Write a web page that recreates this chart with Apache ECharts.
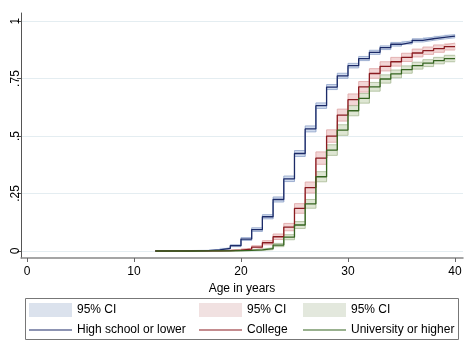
<!DOCTYPE html>
<html><head><meta charset="utf-8">
<script src="https://cdn.jsdelivr.net/npm/echarts@6/dist/echarts.min.js"></script>
<style>html,body{margin:0;padding:0;background:#fff}#c{width:476px;height:357px}</style>
</head><body><div id="c"></div>
<script>
const ages = [12,13,14,15,16,17,18,19,20,21,22,23,24,25,26,27,28,29,30,31,32,33,34,35,36,37,38,39,40];
const xTicks = [0,10,20,30,40];
const yTicks = [0,0.25,0.5,0.75,1];
const yTickLabels = ['0','.25','.5','.75','1'];
const xTitle = 'Age in years';
const ciLabel = '95% CI';
const groupNames = ['High school or lower','College','University or higher'];

const hsEst = [0,0.0005,0.001,0.0015,0.002,0.005,0.011,0.023,0.052,0.093,0.149,0.224,0.314,0.424,0.531,0.632,0.713,0.762,0.806,0.837,0.864,0.884,0.899,0.907,0.916,0.923,0.929,0.934,0.934];
const hsLo  = [0,0,0,0.0005,0.001,0.003,0.008,0.019,0.046,0.085,0.140,0.213,0.302,0.411,0.518,0.620,0.702,0.751,0.796,0.828,0.855,0.876,0.891,0.900,0.909,0.916,0.922,0.927,0.927];
const hsHi  = [0.001,0.0015,0.002,0.0025,0.003,0.007,0.014,0.027,0.058,0.101,0.158,0.235,0.326,0.437,0.544,0.644,0.724,0.773,0.816,0.846,0.873,0.892,0.907,0.914,0.923,0.930,0.936,0.941,0.941];

const colEst = [0,0,0,0.0005,0.001,0.001,0.002,0.004,0.008,0.017,0.036,0.062,0.104,0.185,0.276,0.404,0.500,0.591,0.658,0.714,0.772,0.803,0.823,0.842,0.861,0.871,0.880,0.889,0.889];
const colLo  = [0,0,0,0,0,0,0,0.001,0.004,0.011,0.027,0.050,0.088,0.164,0.252,0.377,0.473,0.565,0.633,0.691,0.751,0.783,0.804,0.824,0.844,0.855,0.864,0.874,0.874];
const colHi  = [0.001,0.001,0.001,0.0015,0.002,0.002,0.004,0.007,0.012,0.023,0.045,0.074,0.120,0.206,0.300,0.431,0.527,0.617,0.683,0.737,0.793,0.823,0.842,0.860,0.878,0.887,0.896,0.904,0.904];

const uniEst = [0,0,0,0,0.0005,0.001,0.001,0.002,0.003,0.005,0.010,0.026,0.060,0.113,0.205,0.323,0.439,0.526,0.610,0.664,0.714,0.748,0.770,0.789,0.806,0.817,0.828,0.837,0.837];
const uniLo  = [0,0,0,0,0,0,0,0,0.001,0.002,0.006,0.019,0.049,0.098,0.186,0.301,0.416,0.503,0.588,0.643,0.695,0.730,0.753,0.773,0.791,0.802,0.814,0.823,0.823];
const uniHi  = [0.001,0.001,0.001,0.001,0.0015,0.002,0.002,0.004,0.005,0.008,0.014,0.033,0.071,0.128,0.224,0.345,0.462,0.549,0.632,0.685,0.733,0.766,0.787,0.805,0.821,0.832,0.842,0.851,0.851];

const FONT = 'Liberation Sans, Arial, Helvetica, sans-serif';
const groups = [
  {id:'hs',  est:hsEst,  lo:hsLo,  hi:hsHi,  line:'#1c2b68', fill:'#d0dbee', edge:'#8ea2c8', key:'#dbe2ed'},
  {id:'col', est:colEst, lo:colLo, hi:colHi, line:'#8a1b20', fill:'#f3d6d6', edge:'#dea3a3', key:'#f1e1e1'},
  {id:'uni', est:uniEst, lo:uniLo, hi:uniHi, line:'#356420', fill:'#dee6d3', edge:'#a8ba95', key:'#e3e8dd'}
];

const series = [];
groups.forEach(g => {
  // band fill: one rectangle per step interval, positioned through the axes
  series.push({
    name: 'ci_' + g.id, type: 'custom', silent: true,
    itemStyle: {color: g.key},
    encode: {x: [0, 1], y: [2, 3]},
    data: ages.slice(0, -1).map((a, i) => [a, ages[i + 1], g.lo[i], g.hi[i]]),
    renderItem: (params, api) => {
      const p1 = api.coord([api.value(0), api.value(3)]);
      const p2 = api.coord([api.value(1), api.value(2)]);
      return {type: 'rect', shape: {x: p1[0], y: p1[1], width: p2[0] - p1[0] + 0.5, height: Math.max(p2[1] - p1[1], 0.5)},
              style: {fill: g.fill}};
    }
  });
  ['lo', 'hi'].forEach(k => series.push({
    name: k + '_' + g.id, type: 'line', step: 'end', symbol: 'none', silent: true,
    data: ages.map((a, i) => [a, g[k][i]]),
    lineStyle: {color: g.edge, width: 0.8}
  }));
});
groups.forEach((g, k) => {
  series.push({
    name: groupNames[k], type: 'line', step: 'end', symbol: 'none', silent: true,
    data: ages.map((a, i) => [a, g.est[i]]),
    itemStyle: {color: g.line},
    lineStyle: {color: g.line, width: 1.3}
  });
});

const colLeft = [29, 199, 303];
const legends = [];
groups.forEach((g, k) => {
  legends.push({
    left: colLeft[k], top: 303, padding: 0, itemWidth: 43, itemHeight: 14, itemGap: 0,
    selectedMode: false,
    data: [{name: 'ci_' + g.id, icon: 'rect'}],
    itemStyle: {color: g.key, borderWidth: 0},
    formatter: () => ciLabel,
    textStyle: {color: '#000', fontSize: 12, fontFamily: FONT}
  });
  legends.push({
    left: colLeft[k], top: 324, padding: 0, itemWidth: 43, itemHeight: 1.2, itemGap: 0,
    selectedMode: false,
    data: [{name: groupNames[k], icon: 'rect'}],
    itemStyle: {color: g.line, borderWidth: 0},
    textStyle: {color: '#000', fontSize: 12, fontFamily: FONT}
  });
});

const chart = echarts.init(document.getElementById('c'), null, {renderer: 'canvas'});
chart.setOption({
  animation: false,
  backgroundColor: '#fff',
  textStyle: {fontFamily: FONT},
  grid: {left: 21, right: 13, top: 13, bottom: 99, containLabel: false, outerBoundsMode: 'none'},
  xAxis: {
    type: 'value', min: -0.56, max: 40.75,
    name: xTitle, nameLocation: 'middle', nameGap: 21,
    nameTextStyle: {color: '#000', fontSize: 12, fontFamily: FONT},
    axisLine: {show: true, onZero: false, lineStyle: {color: '#888', width: 1.5}},
    axisTick: {show: true, length: 4, customValues: xTicks, lineStyle: {color: '#666'}},
    axisLabel: {customValues: xTicks, margin: 8, color: '#000', fontSize: 12, fontFamily: FONT},
    splitLine: {show: false}
  },
  yAxis: {
    type: 'value', min: -0.0304, max: 1.035,
    axisLine: {show: true, onZero: false, lineStyle: {color: '#555', width: 1}},
    axisTick: {show: true, length: 4, customValues: yTicks, lineStyle: {color: '#555'}},
    axisLabel: {customValues: yTicks, rotate: 90, margin: -1, color: '#000', fontSize: 12, fontFamily: FONT,
      formatter: v => yTickLabels[yTicks.findIndex(t => Math.abs(t - v) < 1e-9)] ?? ''},
    splitLine: {show: true, lineStyle: {color: '#e4edf1', width: 1}}
  },
  legend: legends,
  graphic: [{
    type: 'rect', left: 25, top: 298, z: -1, silent: true,
    shape: {width: 433, height: 41},
    style: {fill: '#fff', stroke: '#777', lineWidth: 1}
  }],
  series: series
});
</script></body></html>
